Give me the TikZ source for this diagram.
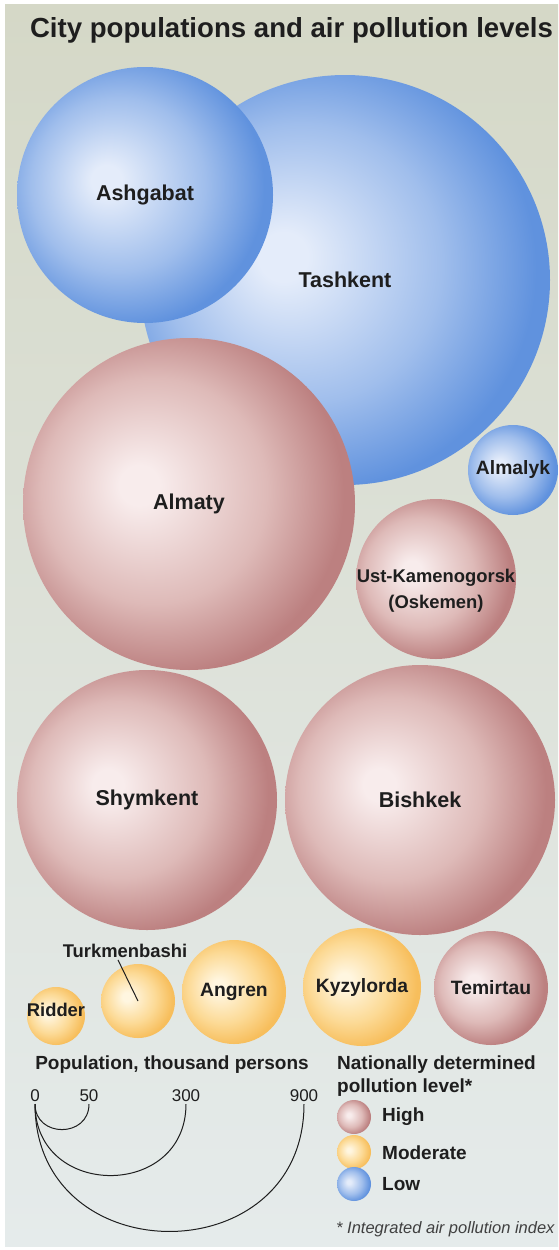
\documentclass[tikz,border=0pt]{standalone}
\usepackage{fontspec}
\setmainfont{Liberation Sans}
\usepackage{tikz}
\definecolor{ink}{RGB}{30,30,30}
\definecolor{bgtop}{RGB}{213,216,199}
\definecolor{bgmid}{RGB}{222,229,222}
\definecolor{bgbot}{RGB}{229,235,235}
\definecolor{lowhi}{RGB}{228,236,250}
\definecolor{lowmid}{RGB}{160,190,236}
\definecolor{lowedge}{RGB}{96,146,222}
\definecolor{highhi}{RGB}{248,236,236}
\definecolor{highmid}{RGB}{222,186,184}
\definecolor{highedge}{RGB}{188,128,128}
\definecolor{modhi}{RGB}{255,246,224}
\definecolor{modmid}{RGB}{252,218,150}
\definecolor{modedge}{RGB}{247,190,92}
\pgfdeclareradialshading{lowball}{\pgfpoint{-8bp}{3bp}}{color(0bp)=(lowhi); color(3bp)=(lowhi); color(17bp)=(lowmid); color(27bp)=(lowedge); color(50bp)=(lowedge)}
\pgfdeclareradialshading{highball}{\pgfpoint{-8bp}{3bp}}{color(0bp)=(highhi); color(3bp)=(highhi); color(17bp)=(highmid); color(27bp)=(highedge); color(50bp)=(highedge)}
\pgfdeclareradialshading{modball}{\pgfpoint{-8bp}{3bp}}{color(0bp)=(modhi); color(3bp)=(modhi); color(17bp)=(modmid); color(27bp)=(modedge); color(50bp)=(modedge)}
\newcommand{\cityfont}{\bfseries\fontsize{21.5}{24}\selectfont}
\newcommand{\smallcity}{\bfseries\fontsize{19.3}{22}\selectfont}
\newcommand{\tinycity}{\bfseries\fontsize{18.4}{26}\selectfont}
\newcommand{\keyfont}{\bfseries\fontsize{19}{22}\selectfont}
\tikzset{
 bubble/.style={circle,inner sep=0pt,shade,text=ink,font=\cityfont},
 high/.style={bubble,shading=highball},
 moderate/.style={bubble,shading=modball},
 low/.style={bubble,shading=lowball},
 key/.style={font=\keyfont,text=ink,inner sep=1pt},
 tick/.style={font=\fontsize{17}{19}\selectfont,text=ink,inner sep=2.5pt,anchor=south},
 scalearc/.style={line width=1pt,ink}
}

\begin{document}
\begin{tikzpicture}[x=1pt,y=1pt]
 \useasboundingbox (0,0) rectangle (558,-1250);
 \fill[white] (0,0) rectangle (558,-1250);
 \shade[top color=bgtop,middle color=bgmid,bottom color=bgbot] (5,-4) rectangle (558,-1246);
 \node[anchor=base,font=\bfseries\fontsize{27.6}{30}\selectfont,text=ink] (title) at (291.5,-37) {City populations and air pollution levels};
 \node[low,minimum size=410] (tashkent) at (345,-280) {Tashkent};
 \node[low,minimum size=256] (ashgabat) at (145,-195) {Ashgabat};
 \node[high,minimum size=332] (almaty) at (189,-504) {Almaty};
 \node[low,minimum size=90,font=\smallcity] (almalyk) at (513,-470) {Almalyk};
 \node[high,minimum size=160] (ustkam) at (436,-579) {};
 \node[align=center,font=\tinycity,text=ink] (ustlabel) at (436,-591) {Ust-Kamenogorsk\\(Oskemen)};
 \node[high,minimum size=260] (shymkent) at (147,-800) {Shymkent};
 \node[high,minimum size=270] (bishkek) at (420,-800) {Bishkek};
 \node[moderate,minimum size=58] (ridder) at (56,-1016) {};
 \node[font=\tinycity,text=ink,inner sep=0pt] (ridderlabel) at (56,-1010) {Ridder};
 \node[moderate,minimum size=74] (turkmenbashi) at (138,-1001) {};
 \node[font=\tinycity,text=ink,inner sep=2pt] (turklabel) at (125,-951) {Turkmenbashi};
 \draw[line width=1pt,ink] ([xshift=-7pt]turklabel.south) -- (turkmenbashi.center);
 \node[moderate,minimum size=104,font=\smallcity] (angren) at (234,-992) {Angren};
 \node[moderate,minimum size=118,font=\smallcity] (kyzylorda) at (362,-987) {Kyzylorda};
 \node[high,minimum size=114,font=\smallcity] (temirtau) at (491,-988) {Temirtau};
 \node[key] (poptitle) at (172,-1065) {Population, thousand persons};
 \node[tick] (n0) at (35,-1104) {0};
 \node[tick] (n50) at (89,-1104) {50};
 \node[tick] (n300) at (186,-1104) {300};
 \node[tick] (n900) at (304,-1104) {900};
 \draw[scalearc] (n0.south) to[out=-90,in=-90,looseness=1.62] (n50.south);
 \draw[scalearc] (n0.south) to[out=-90,in=-90,looseness=1.62] (n300.south);
 \draw[scalearc] (n0.south) to[out=-90,in=-90,looseness=1.62] (n900.south);
 \node[key,anchor=west] (keytitle) at (336,-1065) {Nationally determined};
 \node[key,anchor=west] (keytitle2) at (336,-1088) {pollution level*};
 \node[high,minimum size=34] (keyhigh) at (354,-1117) {};
 \node[moderate,minimum size=34] (keymod) at (354,-1152) {};
 \node[low,minimum size=34] (keylow) at (354,-1184) {};
 \node[key,anchor=west] (highlabel) at (381,-1117) {High};
 \node[key,anchor=west] (modlabel) at (381,-1153) {Moderate};
 \node[key,anchor=west] (lowlabel) at (381,-1184) {Low};
 \node[anchor=west,inner sep=1pt,font=\itshape\fontsize{16.5}{18}\selectfont,text=ink!85] (note) at (335,-1229) {* Integrated air pollution index};
\end{tikzpicture}
\end{document}
